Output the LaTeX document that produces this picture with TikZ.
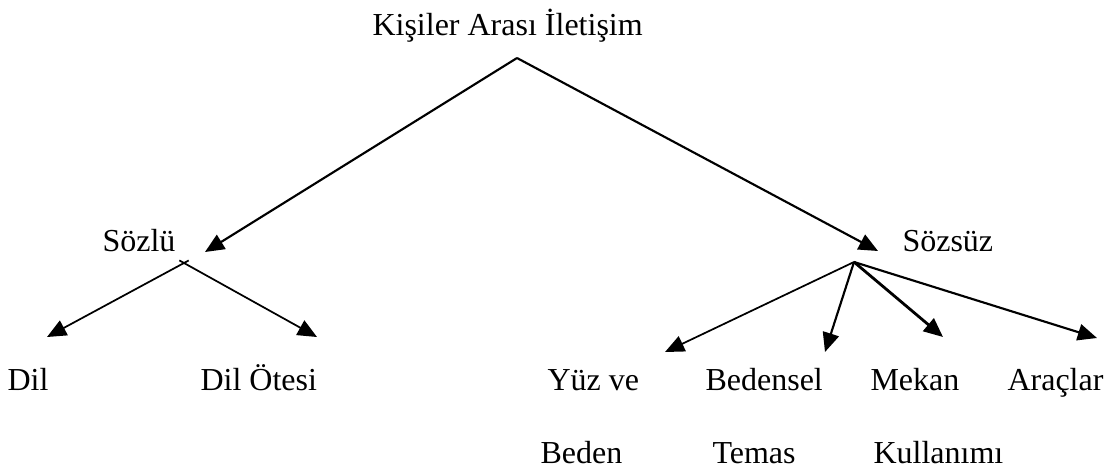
\documentclass[tikz,border=0pt]{standalone}
\usepackage{fontspec}
\setmainfont{Liberation Serif}
\usetikzlibrary{arrows.meta,calc}

\begin{document}
\begin{tikzpicture}[x=0.375pt,y=-0.375pt]
    \tikzset{
      lbl/.style={
        anchor=base west,
        inner sep=0pt,
        font=\fontsize{12}{14}\selectfont
      },
      branch/.style={
        line width=0.8pt,
        -{Triangle[length=7.2pt,width=6.2pt]}
      },
      subbranch/.style={
        branch,
        line width=0.65pt,
        shorten <=-2pt
      },
      thickbranch/.style={
        branch,
        line width=1.05pt
      }
    }

    \useasboundingbox (0,0) rectangle (1109,472);

    % labels
    \node[lbl] (root) at (372,35) {Kişiler Arası İletişim};
    \node[lbl] (sozlu) at (102,251) {Sözlü};
    \node[lbl] (sozsuz) at (902,251) {Sözsüz};
    \node[lbl] (dil) at (7,390) {Dil};
    \node[lbl] (dilotesi) at (200,390) {Dil Ötesi};
    \node[lbl] (yuz) at (547,390) {Yüz ve};
    \node[lbl] (yuzb) at (540,463) {Beden};
    \node[lbl] (bedensel) at (705,390) {Bedensel};
    \node[lbl] (bedenselb) at (712,463) {Temas};
    \node[lbl] (mekan) at (870,390) {Mekan};
    \node[lbl] (mekanb) at (873,463) {Kullanımı};
    \node[lbl] (araclar) at (1007,390) {Araçlar};

    % junctions and arrow ends
    \coordinate (rootjoin) at (517,58);
    \coordinate (sozlutip) at (205,252);
    \coordinate (sozsuztip) at (878,251);
    \coordinate (sozlujoin) at (184,263);
    \coordinate (sozsuzjoin) at (854,262);
    \coordinate (diltip) at (47,337);
    \coordinate (dilotesitip) at (317,337);
    \coordinate (yuztip) at (665,352);
    \coordinate (bedenseltip) at (825,352);
    \coordinate (mekantip) at (943,337);
    \coordinate (araclartip) at (1097,338);

    \draw[branch] (rootjoin) -- (sozlutip);
    \draw[branch] (rootjoin) -- (sozsuztip);

    \draw[subbranch] (sozlujoin) -- (diltip);
    \draw[subbranch] (sozlujoin) -- (dilotesitip);

    \draw[subbranch, shorten <=0pt] (sozsuzjoin) -- (yuztip);
    \draw[branch] (sozsuzjoin) -- (bedenseltip);
    \draw[thickbranch] (sozsuzjoin) -- (mekantip);
    \draw[branch] (sozsuzjoin) -- (araclartip);
\end{tikzpicture}
\end{document}
